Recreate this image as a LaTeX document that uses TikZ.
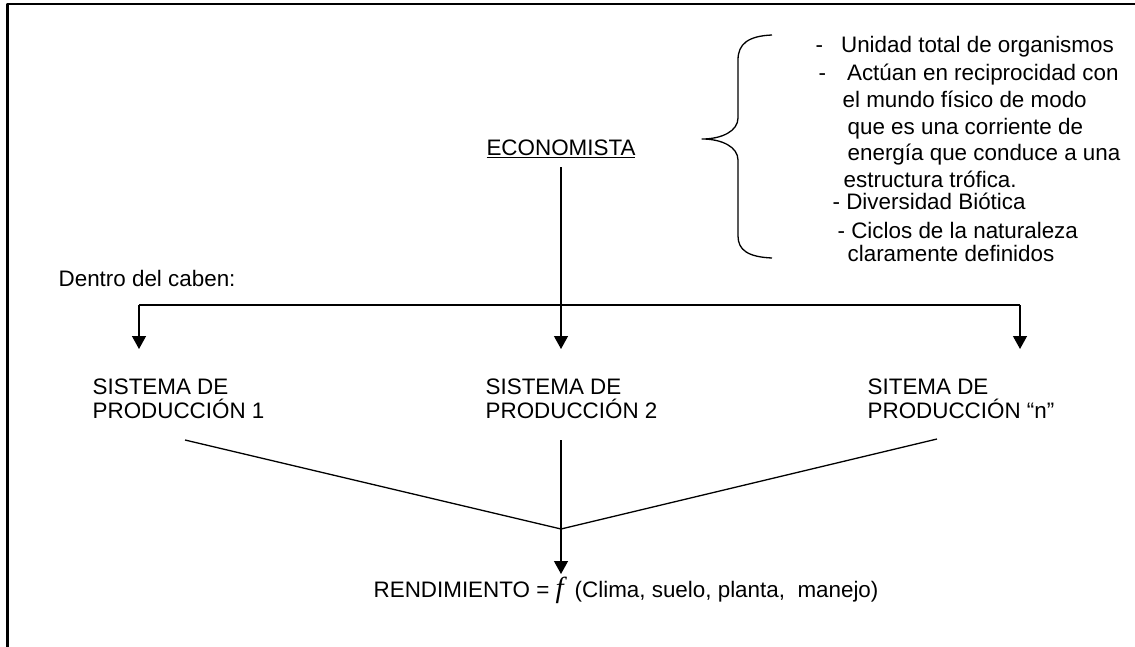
\documentclass[tikz,border=0pt]{standalone}
\usepackage{fontspec}
\setmainfont{Liberation Sans}
\newfontfamily\ffont{Liberation Serif}
\usetikzlibrary{arrows.meta}
\begin{document}
\begin{tikzpicture}[x=1pt,y=-1pt,line join=round,>={Triangle[width=14pt,length=13pt]},line width=1.3pt,
    font=\fontsize{22.4}{24.5}\selectfont,
    txt/.style={inner sep=0pt,anchor=base west},
    sis/.style={inner sep=0pt,anchor=north west,align=left}]
    \useasboundingbox (0,0) rectangle (1135,647);
    \draw[line width=2.5pt] (7.5,647)--(7.5,4)--(1135,4);

    \node (econ) at (561,156) [anchor=base,inner sep=0pt,outer sep=9pt] {\underline{ECONOMISTA}};
    % llave
    \draw (772,35)..controls (748,36) and (738,44)..(738,60)--(738,118)
        ..controls (738,131) and (722,139)..(702,139)..controls (722,139) and (738,147)..(738,160)
        --(738,236)..controls (738,250) and (748,257)..(772,258);
    \foreach \dx/\yy/\txt [count=\i] in {0/53/{-\hspace*{18pt}Unidad total de organismos},
        3/81/{-\hspace*{21pt}Actúan en reciprocidad con},27/108/{el mundo físico de modo},
        32/135/{que es una corriente de},32/161/{energía que conduce a una},
        28/188/{estructura trófica.},17/210/{- Diversidad Biótica},
        22/238/{- Ciclos de la naturaleza},32/261/{claramente definidos}}
        \node[txt] (nota\i) at (815+\dx,\yy) {\txt};

    \node[txt] (dentro) at (58,286) {Dentro del caben:};
    \node[sis] (sis1) at (92,378) {SISTEMA DE\\PRODUCCIÓN 1};
    \node[sis] (sis2) at (485,378) {SISTEMA DE\\PRODUCCIÓN 2};
    \node[sis] (sis3) at (867,378) {SITEMA DE\\PRODUCCIÓN “n”};
    \node[txt] (rend) at (373,597) {RENDIMIENTO = {\ffont\itshape\fontsize{29}{29}\selectfont f\,} (Clima, suelo, planta,\ \ manejo)};

    \coordinate (izq) at (139,305);
    \coordinate (der) at (1020,305);
    \coordinate (p1) at (139,349);
    \coordinate (p2) at (561,349);
    \coordinate (p3) at (1020,349);
    \draw (izq)--(der);
    \draw[->] (izq)--(p1);
    \draw[->] (der)--(p3);
    \draw[->] (econ.south)--(p2);

    \coordinate (a1) at (185,440);
    \coordinate (a2) at (561,440);
    \coordinate (a3) at (937,439);
    \coordinate (m) at (561,529);
    \coordinate (r) at (561,574);
    \draw (a1)--(m)--(a3);
    \draw[->] (a2)--(r);
\end{tikzpicture}
\end{document}
